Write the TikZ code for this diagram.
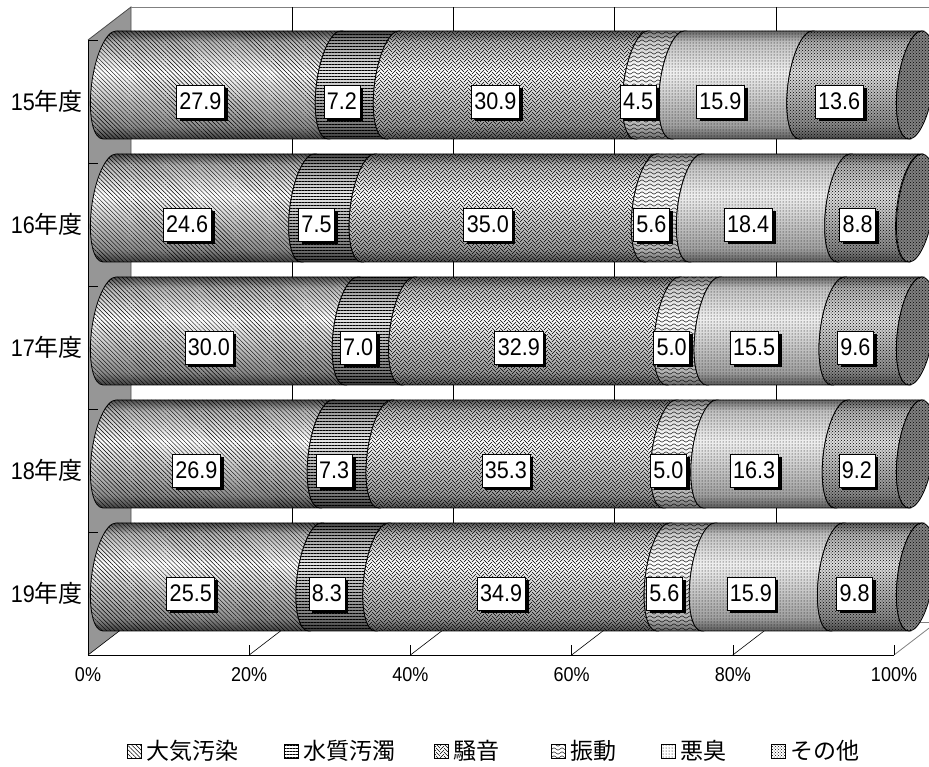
\documentclass[tikz,border=0pt]{standalone}
\usepackage{fontspec}
\setmainfont[FakeStretch=0.9]{Liberation Sans}
\newfontfamily\jpfont{Noto Sans CJK JP}
\usetikzlibrary{patterns,patterns.meta,shadows,positioning}
\definecolor{wallgray}{RGB}{150,150,150}
\definecolor{edgegray}{RGB}{128,128,128}

% small patterns for the bar segments
\pgfdeclarepatternformonly{weave}{\pgfqpoint{-0.5pt}{-2.5pt}}{\pgfqpoint{8.5pt}{4.5pt}}{\pgfqpoint{8pt}{4pt}}{
  \pgfsetlinewidth{0.5pt}
  \pgfpathmoveto{\pgfqpoint{0pt}{0pt}}\pgfpathlineto{\pgfqpoint{4pt}{4pt}}
  \pgfpathmoveto{\pgfqpoint{4pt}{2pt}}\pgfpathlineto{\pgfqpoint{8pt}{-2pt}}
  \pgfusepath{stroke}}
\pgfdeclarepatternformonly{waves}{\pgfqpoint{0pt}{-1pt}}{\pgfqpoint{8pt}{3pt}}{\pgfqpoint{8pt}{4pt}}{
  \pgfsetlinewidth{0.45pt}
  \pgfpathmoveto{\pgfqpoint{0pt}{1pt}}
  \pgfpathcurveto{\pgfqpoint{1.3pt}{2.6pt}}{\pgfqpoint{2.7pt}{2.6pt}}{\pgfqpoint{4pt}{1pt}}
  \pgfpathcurveto{\pgfqpoint{5.3pt}{-0.6pt}}{\pgfqpoint{6.7pt}{-0.6pt}}{\pgfqpoint{8pt}{1pt}}
  \pgfusepath{stroke}}

% cylinder shadings (25bp = bottom rim, 75bp = top rim): light band a bit above the middle
\pgfdeclareverticalshading{cyl1}{100bp}{color(0bp)=(black!75); color(25bp)=(black!75); color(31bp)=(black!45); color(56bp)=(white); color(70bp)=(black!30); color(75bp)=(black!70); color(100bp)=(black!70)}
\pgfdeclareverticalshading{cyl2}{100bp}{color(0bp)=(black!80); color(25bp)=(black!80); color(31bp)=(black!55); color(56bp)=(black!10); color(70bp)=(black!40); color(75bp)=(black!75); color(100bp)=(black!75)}
\pgfdeclareverticalshading{cyl3}{100bp}{color(0bp)=(black!70); color(25bp)=(black!70); color(31bp)=(black!40); color(56bp)=(white); color(70bp)=(black!28); color(75bp)=(black!65); color(100bp)=(black!65)}
\pgfdeclareverticalshading{cyl4}{100bp}{color(0bp)=(black!60); color(25bp)=(black!60); color(31bp)=(black!30); color(56bp)=(white); color(70bp)=(black!20); color(75bp)=(black!55); color(100bp)=(black!55)}
\pgfdeclareverticalshading{cyl5}{100bp}{color(0bp)=(black!65); color(25bp)=(black!65); color(31bp)=(black!38); color(56bp)=(black!6); color(70bp)=(black!25); color(75bp)=(black!60); color(100bp)=(black!60)}
\pgfdeclareverticalshading{cyl6}{100bp}{color(0bp)=(black!70); color(25bp)=(black!70); color(31bp)=(black!48); color(56bp)=(black!12); color(70bp)=(black!32); color(75bp)=(black!65); color(100bp)=(black!65)}

% one segment of a cylinder, between two left half-ellipses
\newcommand{\segpath}[2]{(#1,54) arc[start angle=90,end angle=270,x radius=18,y radius=54] -- (#2,-54) arc[start angle=270,end angle=90,x radius=18,y radius=54] -- cycle}

\tikzset{
  pat1/.style={pattern={Lines[angle=-45,distance=3pt,line width=0.45pt]}},
  pat2/.style={pattern={Lines[angle=0,distance=3pt,line width=0.9pt]}},
  pat3/.style={pattern=weave},
  pat4/.style={pattern=waves},
  pat5/.style={pattern=dots},
  pat6/.style={pattern=crosshatch dots},
  vallabel/.style={draw=black,fill=white,line width=0.6pt,font=\fontsize{24}{24}\selectfont,
    inner xsep=3pt,inner ysep=8pt,text height=17pt,text depth=0pt,
    general shadow={fill=black,shadow xshift=3.5pt,shadow yshift=-3.5pt}},
  yearlabel/.style={anchor=east,inner sep=0pt,font=\fontsize{24}{24}\selectfont},
  pctlabel/.style={inner sep=0pt,font=\fontsize{20}{20}\selectfont},
  legbox/.style={draw=black,fill=white,line width=0.6pt,minimum size=14pt,inner sep=0pt},
  legtext/.style={inner sep=0pt,font=\fontsize{23}{23}\selectfont\jpfont}
}

\begin{document}
\begin{tikzpicture}[x=1pt,y=1pt]
  \useasboundingbox (0,0) rectangle (929,766);

  % walls
  \fill[wallgray] (88,111) -- (131,144) -- (131,759) -- (88,726) -- cycle;
  \draw[black!70,line width=0.8pt] (88,726) -- (131,759) -- (131,144);
  \draw[edgegray,line width=0.8pt] (131,759) -- (940,759);
  \draw[edgegray,line width=0.8pt] (131,144) -- (940,144);
  \draw[edgegray,line width=0.8pt] (894,111) -- (937,144);
  \foreach \k in {1,...,4}
    \draw[line width=0.6pt] ({131+161.2*\k},144) -- ({131+161.2*\k},759);

  % floor and axes
  \draw[line width=0.8pt] (88,111) -- (894,111);
  \draw[line width=1pt] (88,111) -- (88,726);
  \foreach \k in {0,...,5} {
    \draw[line width=0.6pt] ({88+161.2*\k},111) -- ++(0,10);
    \ifnum\k<5 \draw[line width=0.6pt] ({88+161.2*\k},111) -- ++(43,33); \fi
    \pgfmathtruncatemacro{\pc}{20*\k}
    \node[pctlabel] (pct\k) at ({88+161.2*\k},91) {\pc\%};
  }
  \foreach \r in {0,...,4}
    \draw[line width=0.6pt] (88,{726-123*\r}) -- ++(10,0);

  % cylinders, one per year
  \foreach \yr/\vals [count=\r from 0] in {15/{27.9,7.2,30.9,4.5,15.9,13.6},
      16/{24.6,7.5,35.0,5.6,18.4,8.8}, 17/{30.0,7.0,32.9,5.0,15.5,9.6},
      18/{26.9,7.3,35.3,5.0,16.3,9.2}, 19/{25.5,8.3,34.9,5.6,15.9,9.8}} {
    \begin{scope}[shift={(0,{681-123*\r})},xslant=0.12]
      \foreach \v [count=\i, remember=\nxt as \cum (initially 0)] in \vals {
        \pgfmathsetmacro{\nxt}{\cum+\v}
        \pgfmathsetmacro{\xa}{109.5+8.06*\cum}
        \pgfmathsetmacro{\xb}{109.5+8.06*\nxt}
        \shade[shading=cyl\i] \segpath{\xa}{\xb};
        \path[pat\i,draw=black,line width=0.8pt] \segpath{\xa}{\xb};
      }
      % end cap
      \fill[black!50] (915.5,0) ellipse[x radius=18,y radius=54];
      \path[pattern=crosshatch dots,draw=black,line width=0.8pt] (915.5,0) ellipse[x radius=18,y radius=54];
    \end{scope}
    % value labels
    \foreach \v [count=\i, remember=\nxt as \cum (initially 0)] in \vals {
      \pgfmathsetmacro{\nxt}{\cum+\v}
      \node[vallabel] (v\r-\i) at ({88+8.06*(\cum+\v/2)},{664.5-123*\r}) {\v};
    }
    \node[yearlabel] (yr\r) at (83,{664.5-123*\r}) {\yr{\jpfont 年度}};
  }

  % legend
  \foreach \k/\xk/\name in {1/134/大気汚染,2/291/水質汚濁,3/441/騒音,4/558/振動,5/668/悪臭,6/778/その他} {
    \node[legbox,pat\k] (key\k) at (\xk,15) {};
    \node[legtext,right=5pt of key\k] (lab\k) {\name};
  }
\end{tikzpicture}
\end{document}
